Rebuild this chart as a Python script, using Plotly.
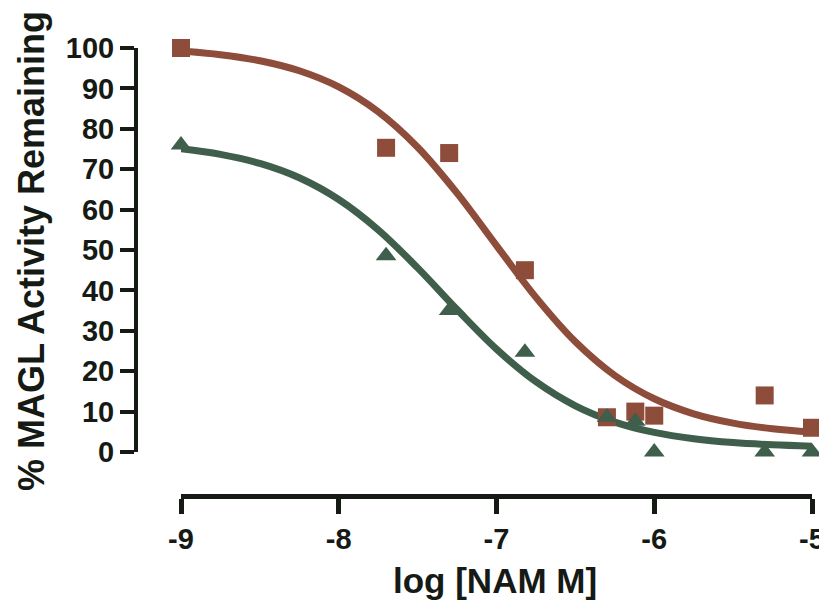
import plotly.graph_objects as go

# Measured data (log dose)
log_dose = [-9.0, -7.7, -7.3, -6.82, -6.3, -6.12, -6.0, -5.3, -5.0]
red_values = [100, 75.3, 74, 45, 8.6, 10, 9, 14, 6]
green_values = [76, 48.6, 35, 24.7, 8.6, 7.6, 0, 0, 0]

# Fitted curves
curve_x = [-9.0, -8.75, -8.5, -8.25, -8.0, -7.75, -7.5, -7.25, -7.0,
           -6.75, -6.5, -6.25, -6.0, -5.75, -5.5, -5.25, -5.0]
red_curve = [99.25, 98.35, 96.85, 94.36, 90.36, 84.21, 75.43, 64.07, 51.09,
             38.27, 27.28, 18.94, 13.18, 9.46, 7.16, 5.77, 4.95]
green_curve = [75.04, 73.67, 71.43, 67.87, 62.49, 54.99, 45.58, 35.27, 25.48,
               17.40, 11.44, 7.41, 4.85, 3.28, 2.33, 1.78, 1.45]

x_ticks = [-9, -8, -7, -6, -5]
x_tick_labels = ["-9", "-8", "-7", "-6", "-5"]
y_ticks = [0, 10, 20, 30, 40, 50, 60, 70, 80, 90, 100]

RED = "#8E4C3A"
GREEN = "#3F5E4B"
AXIS = "#151a15"
W, H = 827, 605
OFF = 8  # default page body margin
FONT = "Liberation Sans, Arial, sans-serif"

def px(x):
    return (x - OFF) / W

def py(y):
    return 1 - (y - OFF) / H

fig = go.Figure()
fig.add_trace(go.Scatter(x=curve_x, y=red_curve, mode="lines",
                         line=dict(color=RED, width=7, shape="spline"),
                         cliponaxis=False, showlegend=False))
fig.add_trace(go.Scatter(x=curve_x, y=green_curve, mode="lines",
                         line=dict(color=GREEN, width=7, shape="spline"),
                         cliponaxis=False, showlegend=False))
fig.add_trace(go.Scatter(x=log_dose, y=red_values, mode="markers",
                         marker=dict(symbol="square", size=18, color=RED),
                         cliponaxis=False, showlegend=False))
fig.add_trace(go.Scatter(x=log_dose, y=green_values, mode="markers",
                         marker=dict(symbol="triangle-up", size=18, color=GREEN),
                         cliponaxis=False, showlegend=False))

tickfont = dict(family=FONT, size=29, color=AXIS, weight="bold")

fig.update_layout(
    width=W, height=H,
    margin=dict(l=0, r=0, t=0, b=0, autoexpand=False),
    paper_bgcolor="white", plot_bgcolor="white",
    xaxis=dict(
        domain=[px(181), px(812)], range=[-9, -5],
        anchor="free", position=py(496), automargin=False,
        tickmode="array", tickvals=x_ticks, ticktext=x_tick_labels,
        ticks="outside", ticklen=15, tickwidth=5, tickcolor=AXIS,
        showline=True, linewidth=5, linecolor=AXIS,
        showgrid=False, zeroline=False, tickfont=tickfont,
    ),
    yaxis=dict(
        domain=[py(452), py(48)], range=[0, 100],
        anchor="free", position=px(136), automargin=False,
        tickmode="array", tickvals=y_ticks,
        ticks="outside", ticklen=14, tickwidth=4, tickcolor=AXIS,
        showline=True, linewidth=4, linecolor=AXIS,
        showgrid=False, zeroline=False, tickfont=tickfont,
    ),
    annotations=[
        dict(text="% MAGL Activity Remaining", xref="paper", yref="paper",
             x=px(32), y=py(251), xanchor="center", yanchor="middle",
             textangle=-90, showarrow=False,
             font=dict(family=FONT, size=36, color=AXIS, weight="bold")),
        dict(text="log [NAM M]", xref="paper", yref="paper",
             x=px(495), y=py(580), xanchor="center", yanchor="middle",
             showarrow=False,
             font=dict(family=FONT, size=35, color=AXIS, weight="bold")),
    ],
)

fig.write_html("out.html")
